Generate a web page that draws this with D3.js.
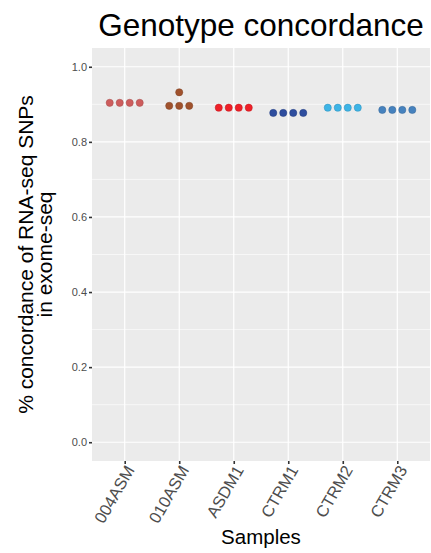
<!DOCTYPE html>
<html>
<head>
<meta charset="utf-8">
<script src="https://cdn.jsdelivr.net/npm/d3@7"></script>
<style>
  body { margin: 0; background: #fff; }
  text { font-family: "Liberation Sans", Arial, sans-serif; }
</style>
</head>
<body>
<svg id="chart"></svg>
<script>
// samples and their 4 replicate concordance values
var samples = ['004ASM', '010ASM', 'ASDM1', 'CTRM1', 'CTRM2', 'CTRM3'];
var values004ASM = [0.905, 0.903, 0.904, 0.904];
var values010ASM = [0.895, 0.897, 0.896, 0.932];
var valuesASDM1 = [0.891, 0.890, 0.892, 0.891];
var valuesCTRM1 = [0.877, 0.876, 0.878, 0.877];
var valuesCTRM2 = [0.891, 0.890, 0.892, 0.891];
var valuesCTRM3 = [0.885, 0.884, 0.886, 0.885];
var colors = ['#CD5C5C', '#A0522D', '#EE2028', '#2E4D9E', '#3DB4E6', '#4682BE'];
var yTicks = [0, 0.2, 0.4, 0.6, 0.8, 1.0];
var yMinor = [0.1, 0.3, 0.5, 0.7, 0.9];

var allValues = [values004ASM, values010ASM, valuesASDM1, valuesCTRM1, valuesCTRM2, valuesCTRM3];

var width = 431, height = 553;
var margin = {top: 48, right: 1, bottom: 92, left: 92};
var panelW = width - margin.left - margin.right;
var panelH = height - margin.top - margin.bottom;

var svg = d3.select('#chart')
    .attr('width', width)
    .attr('height', height);

var x = d3.scalePoint()
    .domain(samples)
    .range([0, panelW])
    .padding(0.6);

var y = d3.scaleLinear()
    .domain([-0.05, 1.05])
    .range([panelH, 0]);

var g = svg.append('g')
    .attr('transform', 'translate(' + margin.left + ',' + margin.top + ')');

// panel background
g.append('rect')
    .attr('width', panelW)
    .attr('height', panelH)
    .attr('fill', '#EBEBEB');

// grid
g.selectAll('.minor')
    .data(yMinor)
    .enter()
    .append('line')
    .attr('x1', 0).attr('x2', panelW)
    .attr('y1', function(d) { return y(d); })
    .attr('y2', function(d) { return y(d); })
    .attr('stroke', '#fff')
    .attr('stroke-width', 0.6);

g.selectAll('.major')
    .data(yTicks)
    .enter()
    .append('line')
    .attr('x1', 0).attr('x2', panelW)
    .attr('y1', function(d) { return y(d); })
    .attr('y2', function(d) { return y(d); })
    .attr('stroke', '#fff')
    .attr('stroke-width', 1.2);

g.selectAll('.vgrid')
    .data(samples)
    .enter()
    .append('line')
    .attr('x1', function(d) { return x(d); })
    .attr('x2', function(d) { return x(d); })
    .attr('y1', 0).attr('y2', panelH)
    .attr('stroke', '#fff')
    .attr('stroke-width', 1.2);

// dotplot: bin values, then stack each bin centered on the category
var binwidth = 0.02;
var dotSpacing = 10;
var dots = [];
samples.forEach(function(s, i) {
    var vals = allValues[i].slice().sort(d3.ascending);
    var bins = [];
    vals.forEach(function(v) {
        var last = bins[bins.length - 1];
        if (last && v < last.start + binwidth) last.vals.push(v);
        else bins.push({start: v, vals: [v]});
    });
    bins.forEach(function(b) {
        var c = d3.mean(b.vals);
        b.vals.forEach(function(v, k) {
            dots.push({sample: s, color: colors[i], y: c,
                off: (k - (b.vals.length - 1) / 2) * dotSpacing});
        });
    });
});

g.selectAll('circle')
    .data(dots)
    .enter()
    .append('circle')
    .attr('cx', function(d) { return x(d.sample) + d.off; })
    .attr('cy', function(d) { return y(d.y); })
    .attr('r', 3.6)
    .attr('fill', function(d) { return d.color; })
    .attr('stroke', function(d) { return d3.color(d.color).darker(0.6); })
    .attr('stroke-width', 0.5);

// y axis
var yAxis = g.append('g')
    .call(d3.axisLeft(y).tickValues(yTicks).tickFormat(d3.format('.1f')).tickSize(3).tickPadding(2));
yAxis.select('.domain').remove();
yAxis.selectAll('line').attr('stroke', '#333').attr('stroke-width', 1.6);
yAxis.selectAll('text')
    .attr('fill', '#4D4D4D')
    .style('font-size', '11px')
    .style('font-family', '"Liberation Sans", Arial, sans-serif');

// x axis
var xAxis = g.append('g')
    .attr('transform', 'translate(0,' + panelH + ')')
    .call(d3.axisBottom(x).tickSize(3).tickPadding(3));
xAxis.select('.domain').remove();
xAxis.selectAll('line').attr('stroke', '#333').attr('stroke-width', 1.6);
xAxis.selectAll('text')
    .attr('fill', '#4D4D4D')
    .attr('text-anchor', 'end')
    .attr('x', 0).attr('y', 0).attr('dy', '0.7em')
    .attr('transform', 'translate(0,3) rotate(-60)')
    .style('font-size', '16.5px')
    .style('font-family', '"Liberation Sans", Arial, sans-serif');

// titles
svg.append('text')
    .attr('x', margin.left + panelW / 2)
    .attr('y', 36)
    .attr('text-anchor', 'middle')
    .style('font-size', '31.5px')
    .text('Genotype concordance');

svg.append('text')
    .attr('x', margin.left + panelW / 2)
    .attr('y', 544)
    .attr('text-anchor', 'middle')
    .style('font-size', '20.5px')
    .text('Samples');

var yt = svg.append('text')
    .attr('transform', 'translate(0,' + (margin.top + panelH / 2) + ') rotate(-90)')
    .attr('text-anchor', 'middle')
    .style('font-size', '21px');
yt.append('tspan').attr('x', 0).attr('y', 33).text('% concordance of RNA-seq SNPs');
yt.append('tspan').attr('x', 0).attr('y', 52).text('in exome-seq');
</script>
</body>
</html>
